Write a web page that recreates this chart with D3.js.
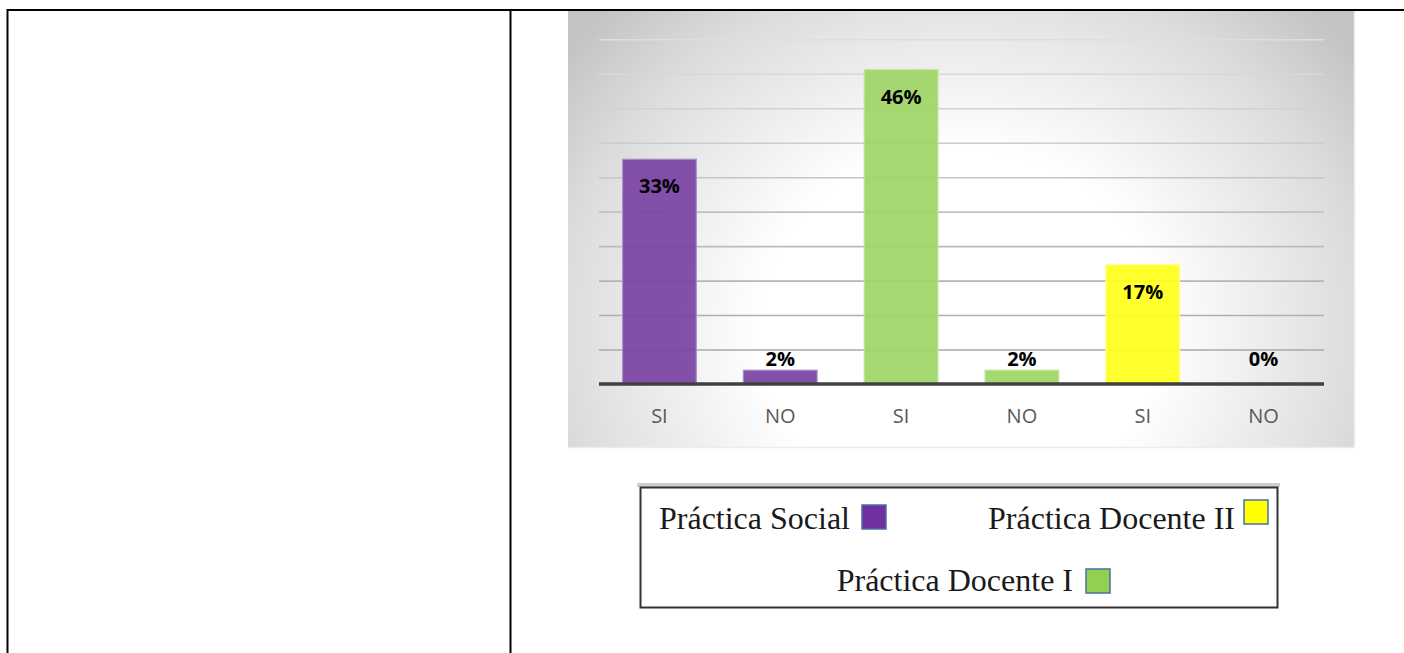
<!DOCTYPE html>
<html>
<head>
<meta charset="utf-8">
<script src="https://cdn.jsdelivr.net/npm/d3@7"></script>
<style>
  html, body { margin: 0; padding: 0; background: #ffffff; }
  svg { display: block; }
</style>
</head>
<body>
<svg id="chart" width="1404" height="653"></svg>
<script>
// ---- data ----
const categories = ["SI", "NO", "SI", "NO", "SI", "NO"];
const barSeries = ["Práctica Social", "Práctica Social", "Práctica Docente I", "Práctica Docente I", "Práctica Docente II", "Práctica Docente II"];
const values = [32.6, 2.0, 45.6, 2.0, 17.3, 0];
const seriesNames = ["Práctica Social", "Práctica Docente I", "Práctica Docente II"];
const gridTicks = [5, 10, 15, 20, 25, 30, 35, 40, 45, 50];

// ---- styles ----
const barFill = { "Práctica Social": "#7a44a4", "Práctica Docente I": "#9fd566", "Práctica Docente II": "#ffff1c" };
const barStroke = { "Práctica Social": "#a98dc8", "Práctica Docente I": "#c2e49c", "Práctica Docente II": "#ffff8a" };
const legendFill = { "Práctica Social": "#7030A0", "Práctica Docente I": "#92D050", "Práctica Docente II": "#FFFF00" };

const svg = d3.select("#chart");
const defs = svg.append("defs");

// table lines
svg.append("line").attr("x1", 7).attr("x2", 1404).attr("y1", 10).attr("y2", 10).attr("stroke", "#000").attr("stroke-width", 2);
svg.append("line").attr("x1", 7.5).attr("x2", 7.5).attr("y1", 9).attr("y2", 653).attr("stroke", "#000").attr("stroke-width", 2);
svg.append("line").attr("x1", 510.5).attr("x2", 510.5).attr("y1", 9).attr("y2", 653).attr("stroke", "#000").attr("stroke-width", 2);

// chart background
const bg = defs.append("radialGradient").attr("id", "bgGrad")
  .attr("gradientUnits", "userSpaceOnUse")
  .attr("cx", 960).attr("cy", 330).attr("r", 500)
  .attr("gradientTransform", "translate(960,330) scale(1,0.9) translate(-960,-330)");
bg.append("stop").attr("offset", 0).attr("stop-color", "#ffffff");
bg.append("stop").attr("offset", 0.4).attr("stop-color", "#ffffff");
bg.append("stop").attr("offset", 0.8).attr("stop-color", "#dcdcdc");
bg.append("stop").attr("offset", 1).attr("stop-color", "#c4c4c4");

svg.append("rect").attr("x", 568).attr("y", 11).attr("width", 786).attr("height", 436)
  .attr("fill", "url(#bgGrad)");
svg.append("path").attr("d", "M1354.5,11 V447.5 H568").attr("fill", "none").attr("stroke", "#ececec").attr("stroke-width", 1.5);

// scales
const x = d3.scaleBand().domain(d3.range(values.length)).range([599, 1324]).paddingInner(0.39).paddingOuter(0.195);
const y = d3.scaleLinear().domain([0, 50]).range([384, 39.3]);

// gridlines
const gridColor = d3.scaleLinear().domain([50, 5]).range(["#dedede", "#a9a9a9"]);
const grid = svg.append("g").attr("transform", "translate(599,0)")
  .call(d3.axisLeft(y).tickValues(gridTicks).tickSize(-725).tickFormat(""));
grid.select(".domain").remove();
grid.selectAll(".tick line").attr("stroke", d => gridColor(d)).attr("stroke-width", 1.6);

// bars
svg.append("g").selectAll("rect").data(values).join("rect")
  .attr("x", (d, i) => x(i))
  .attr("y", d => y(d))
  .attr("width", x.bandwidth())
  .attr("height", d => y(0) - y(d))
  .attr("fill", (d, i) => barFill[barSeries[i]])
  .attr("fill-opacity", 0.93)
  .attr("stroke", (d, i) => d > 0 ? barStroke[barSeries[i]] : "none")
  .attr("stroke-width", 1.2);

// x axis
const xAxis = svg.append("g").attr("transform", "translate(0,384)")
  .call(d3.axisBottom(x).tickSize(0).tickPadding(0).tickFormat(i => categories[i]));
xAxis.select(".domain").attr("stroke", "#404040").attr("stroke-width", 3.5).attr("d", "M599,0H1324");
xAxis.selectAll(".tick text")
  .attr("y", 39).attr("dy", 0)
  .attr("fill", "#595959")
  .style("font-family", "'Open Sans', sans-serif")
  .style("font-size", "20px");

// data labels
svg.append("g").selectAll("text").data(values).join("text")
  .attr("x", (d, i) => x(i) + x.bandwidth() / 2)
  .attr("y", d => (y(0) - y(d) > 40) ? y(d) + 34 : y(0) - 18)
  .attr("text-anchor", "middle")
  .attr("fill", "#000")
  .style("font-family", "'Open Sans', sans-serif")
  .style("font-weight", "bold")
  .style("font-size", "20px")
  .text(d => Math.round(d) + "%");

// legend
svg.append("rect").attr("x", 637).attr("y", 483).attr("width", 643).attr("height", 4).attr("fill", "#cdcdcd");
svg.append("rect").attr("x", 640.5).attr("y", 487.5).attr("width", 637).attr("height", 120)
  .attr("fill", "#fff").attr("stroke", "#333").attr("stroke-width", 2);

const legendPos = {
  "Práctica Social": { tx: 850, ty: 529, sx: 862, sy: 505 },
  "Práctica Docente II": { tx: 1235, ty: 529, sx: 1244, sy: 500 },
  "Práctica Docente I": { tx: 1073, ty: 591, sx: 1086, sy: 569 }
};
const lg = svg.append("g").selectAll("g").data(seriesNames).join("g");
lg.append("text")
  .attr("x", d => legendPos[d].tx)
  .attr("y", d => legendPos[d].ty)
  .attr("text-anchor", "end")
  .attr("fill", "#1a1a1a")
  .style("font-family", "'Liberation Serif', 'Times New Roman', serif")
  .style("font-size", "32px")
  .text(d => d);
lg.append("rect")
  .attr("x", d => legendPos[d].sx)
  .attr("y", d => legendPos[d].sy)
  .attr("width", 24).attr("height", 24)
  .attr("fill", d => legendFill[d])
  .attr("stroke", "#4a6fa5").attr("stroke-width", 1.5);
</script>
</body>
</html>
